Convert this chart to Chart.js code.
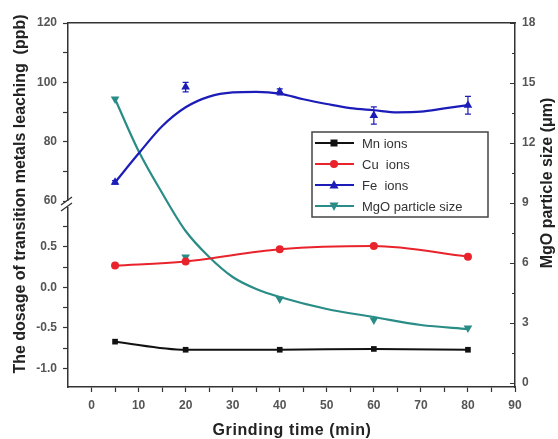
<!DOCTYPE html>
<html>
<head>
<meta charset="utf-8">
<script src="https://cdn.jsdelivr.net/npm/chart.js@4/dist/chart.umd.min.js"></script>
<style>
  html, body { margin: 0; padding: 0; background: #fff; }
  #wrap { width: 558px; height: 439px; }
</style>
</head>
<body>
<div id="wrap"><canvas id="c"></canvas></div>
<script>
// measured points
const grindTime = [5, 20, 40, 60, 80];
const mnIons = [-0.67, -0.77, -0.77, -0.76, -0.77];
const cuIons = [0.27, 0.32, 0.47, 0.51, 0.38];
const feIons = [66.3, 98.4, 96.8, 88.8, 92.3];
const feErr = [0.6, 1.6, 1.0, 2.9, 3.0];
const mgoSize = [14.2, 6.3, 4.2, 3.15, 2.75];

// fitted curves as drawn in the figure
const feFitTime = [5, 10, 15, 20, 25, 30, 35, 40, 45, 50, 55, 60, 65, 70, 75, 80];
const feFit = [66.3, 76, 85.2, 91.6, 95.2, 96.6, 96.8, 96.2, 94.3, 92.7, 91.3, 90.6, 89.9, 90.1, 91.2, 92.3];
const mgoFitTime = [5, 10, 15, 20, 25, 30, 35, 40, 50, 60, 70, 80];
const mgoFit = [14.2, 11.6, 9.5, 7.6, 6.3, 5.3, 4.7, 4.3, 3.7, 3.3, 2.9, 2.7];

// tick lists (majors get labels)
const xTicks = [0, 5, 10, 15, 20, 25, 30, 35, 40, 45, 50, 55, 60, 65, 70, 75, 80, 85, 90];
const upperTicks = [60, 70, 80, 90, 100, 110, 120];
const lowerTicks = [-1.0, -0.75, -0.5, -0.25, 0, 0.25, 0.5, 0.75];
const rightTicks = [0, 1.5, 3, 4.5, 6, 7.5, 9, 10.5, 12, 13.5, 15, 16.5, 18];

const seriesNames = ['Mn ions', 'Cu  ions', 'Fe  ions', 'MgO particle size'];
const colors = { mn: '#111111', cu: '#e8232b', fe: '#1c1cb8', mgo: '#2a8c86' };

const pts = (xs, ys) => xs.map((x, i) => ({ x: x, y: ys[i] }));

const axisColor = '#333';
const tickFont = { family: 'Arial, "Liberation Sans"', size: 12, weight: 'bold' };

function baseAxis(extra) {
  return Object.assign({
    grid: { drawOnChartArea: false, drawTicks: true, tickLength: 5, color: axisColor, tickColor: axisColor, tickWidth: 1.2 },
    border: { display: true, color: axisColor, width: 1.5 },
    ticks: { color: '#555', font: tickFont, padding: 6 }
  }, extra);
}

function setTicks(list) {
  return function (s) { s.ticks = list.map(v => ({ value: v })); };
}

const errorBars = {
  id: 'errorBars',
  beforeDatasetsDraw(chart) {
    const ctx = chart.ctx;
    const xs = chart.scales.x, ys = chart.scales.yUp;
    ctx.save();
    ctx.strokeStyle = colors.fe;
    ctx.lineWidth = 1.2;
    grindTime.forEach((t, i) => {
      const px = xs.getPixelForValue(t);
      const top = ys.getPixelForValue(feIons[i] + feErr[i]);
      const bot = ys.getPixelForValue(feIons[i] - feErr[i]);
      ctx.beginPath();
      ctx.moveTo(px, top); ctx.lineTo(px, bot);
      ctx.moveTo(px - 3, top); ctx.lineTo(px + 3, top);
      ctx.moveTo(px - 3, bot); ctx.lineTo(px + 3, bot);
      ctx.stroke();
    });
    ctx.restore();
  }
};

function marker(ctx, kind, x, y, color) {
  ctx.fillStyle = color;
  ctx.beginPath();
  if (kind === 'rect') {
    ctx.rect(x - 3.5, y - 3.5, 7, 7);
  } else if (kind === 'circle') {
    ctx.arc(x, y, 4, 0, Math.PI * 2);
  } else if (kind === 'up') {
    ctx.moveTo(x, y - 5); ctx.lineTo(x + 4.5, y + 3.5); ctx.lineTo(x - 4.5, y + 3.5);
  } else {
    ctx.moveTo(x, y + 5); ctx.lineTo(x + 4.5, y - 3.5); ctx.lineTo(x - 4.5, y - 3.5);
  }
  ctx.closePath();
  ctx.fill();
}

const decorations = {
  id: 'decorations',
  afterDraw(chart) {
    const ctx = chart.ctx;
    const area = chart.chartArea;
    ctx.save();

    // right axis ticks point inward
    const yR = chart.scales.yR;
    ctx.strokeStyle = axisColor;
    ctx.lineWidth = 1.2;
    ctx.beginPath();
    rightTicks.forEach(v => {
      const py = Math.round(yR.getPixelForValue(v)) + 0.5;
      const len = v % 3 === 0 ? 5 : 3;
      ctx.moveTo(area.right - len, py); ctx.lineTo(area.right, py);
    });
    ctx.stroke();

    // axis break on the left axis
    const bx = area.left, by = chart.scales.yUp.bottom;
    ctx.fillStyle = '#fff';
    ctx.fillRect(bx - 2, by - 3, 4, 6);
    ctx.strokeStyle = axisColor;
    ctx.lineWidth = 1.3;
    ctx.beginPath();
    ctx.moveTo(bx - 7, by + 1); ctx.lineTo(bx + 4, by - 7);
    ctx.moveTo(bx - 7, by + 7); ctx.lineTo(bx + 4, by - 1);
    ctx.stroke();

    // axis titles
    ctx.fillStyle = '#222';
    ctx.font = 'bold 16px Arial, "Liberation Sans"';
    ctx.textAlign = 'center';
    ctx.textBaseline = 'middle';
    ctx.save();
    ctx.translate(21, 194);
    ctx.rotate(-Math.PI / 2);
    ctx.fillText('The dosage of transition metals leaching  (ppb)', 0, 0);
    ctx.restore();
    ctx.save();
    ctx.translate(548, 183);
    ctx.rotate(-Math.PI / 2);
    ctx.fillText('MgO particle size (\u03bcm)', 0, 0);
    ctx.restore();
    ctx.letterSpacing = '0.6px';
    ctx.fillText('Grinding time (min)', 292, 431);
    ctx.letterSpacing = '0px';

    // legend
    const lx = 312, ly = 132, lw = 176, lh = 85;
    ctx.strokeStyle = '#444';
    ctx.lineWidth = 1.5;
    ctx.strokeRect(lx, ly, lw, lh);
    const kinds = ['rect', 'circle', 'up', 'down'];
    const cols = [colors.mn, colors.cu, colors.fe, colors.mgo];
    ctx.font = '13px Arial, "Liberation Sans"';
    ctx.textAlign = 'left';
    seriesNames.forEach((name, i) => {
      const y = ly + 11 + i * 21;
      ctx.strokeStyle = cols[i];
      ctx.lineWidth = 2;
      ctx.beginPath();
      ctx.moveTo(lx + 3, y); ctx.lineTo(lx + 42, y);
      ctx.stroke();
      marker(ctx, kinds[i], lx + 22, y, cols[i]);
      ctx.fillStyle = '#333';
      ctx.fillText(name, lx + 50, y + 1);
    });
    ctx.restore();
  }
};

new Chart(document.getElementById('c'), {
  type: 'scatter',
  data: {
    datasets: [
      {
        label: seriesNames[0], yAxisID: 'yLow', data: pts(grindTime, mnIons),
        showLine: true, cubicInterpolationMode: 'monotone', borderColor: colors.mn, backgroundColor: colors.mn,
        borderWidth: 2, pointStyle: 'rect', pointRadius: 4, pointBorderWidth: 0
      },
      {
        label: seriesNames[1], yAxisID: 'yLow', data: pts(grindTime, cuIons),
        showLine: true, cubicInterpolationMode: 'monotone', borderColor: colors.cu, backgroundColor: colors.cu,
        borderWidth: 2, pointStyle: 'circle', pointRadius: 4, pointBorderWidth: 0
      },
      {
        label: seriesNames[2], yAxisID: 'yUp', data: pts(grindTime, feIons),
        showLine: false, borderColor: colors.fe, backgroundColor: colors.fe,
        pointStyle: 'triangle', pointRadius: 5, pointBorderWidth: 0
      },
      {
        label: 'Fe fit', yAxisID: 'yUp', data: pts(feFitTime, feFit),
        showLine: true, cubicInterpolationMode: 'monotone', borderColor: colors.fe,
        borderWidth: 2.2, pointRadius: 0
      },
      {
        label: seriesNames[3], yAxisID: 'yR', data: pts(grindTime, mgoSize),
        showLine: false, borderColor: colors.mgo, backgroundColor: colors.mgo,
        pointStyle: 'triangle', rotation: 180, pointRadius: 5, pointBorderWidth: 0
      },
      {
        label: 'MgO fit', yAxisID: 'yR', data: pts(mgoFitTime, mgoFit),
        showLine: true, cubicInterpolationMode: 'monotone', borderColor: colors.mgo,
        borderWidth: 2.2, pointRadius: 0
      }
    ]
  },
  options: {
    responsive: true,
    maintainAspectRatio: false,
    animation: false,
    layout: { padding: 0 },
    plugins: { legend: { display: false }, tooltip: { enabled: false } },
    scales: {
      x: baseAxis({
        type: 'linear', position: 'bottom', min: -5, max: 90,
        afterBuildTicks: setTicks(xTicks),
        afterFit(s) { s.height = 52; },
        ticks: { color: '#555', font: tickFont, padding: 6, maxRotation: 0, autoSkip: false,
          callback: v => (v % 10 === 0 ? v : '') }
      }),
      x2: {
        type: 'linear', position: 'top', min: -5, max: 90,
        grid: { display: false }, ticks: { display: false },
        border: { display: true, color: axisColor, width: 1.5 },
        afterFit(s) { s.height = 23; }
      },
      yLow: baseAxis({
        type: 'linear', position: 'left', stack: 'left', stackWeight: 183, min: -1.23, max: 1.03,
        afterBuildTicks: setTicks(lowerTicks),
        afterFit(s) { s.width = 68; },
        ticks: { color: '#555', font: tickFont, padding: 6, autoSkip: false,
          callback: v => (Math.abs(v * 2 - Math.round(v * 2)) < 1e-6 ? v.toFixed(1) : '') }
      }),
      yUp: baseAxis({
        type: 'linear', position: 'left', stack: 'left', stackWeight: 181, min: 59, max: 120,
        afterBuildTicks: setTicks(upperTicks),
        afterFit(s) { s.width = 68; },
        ticks: { color: '#555', font: tickFont, padding: 6, autoSkip: false,
          callback: v => (v % 20 === 0 ? v : '') }
      }),
      yR: {
        type: 'linear', position: 'right', min: -0.2, max: 18,
        afterBuildTicks: setTicks(rightTicks),
        afterFit(s) { s.width = 43; },
        grid: { drawOnChartArea: false, drawTicks: false },
        border: { display: true, color: axisColor, width: 1.5 },
        ticks: { color: '#555', font: tickFont, padding: 7, autoSkip: false,
          callback: v => (v % 3 === 0 ? v : '') }
      }
    }
  },
  plugins: [errorBars, decorations]
});
</script>
</body>
</html>
